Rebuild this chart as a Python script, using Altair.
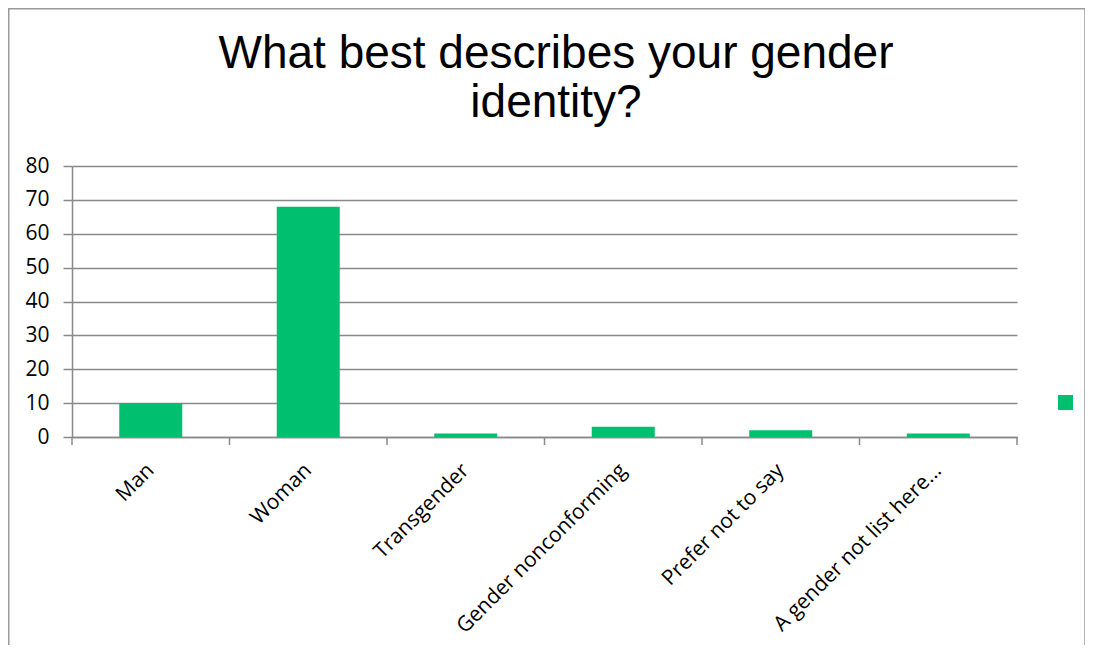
import altair as alt
import pandas as pd

categories = ["Man", "Woman", "Transgender", "Gender nonconforming",
              "Prefer not to say", "A gender not list here..."]
counts = [10, 68, 1, 3, 2, 1]
series_label = ""
y_ticks = [0, 10, 20, 30, 40, 50, 60, 70, 80]
title_lines = ["What best describes your gender", "identity?"]

df = pd.DataFrame({"category": categories, "count": counts,
                   "series": [series_label] * len(categories)})

W, H = 945, 271
GRAY = "#898989"
GREEN = "#00BF6F"
FONT = "Open Sans"

x_scale = alt.Scale(domain=categories, paddingInner=0, paddingOuter=0)
x_axis = alt.Axis(title=None, labelAngle=-45, labelAlign="right", labelBaseline="middle",
                  labelPadding=30, ticks=False, tickSize=0, domain=True,
                  domainColor=GRAY, domainWidth=1.5, labelFont=FONT, labelFontSize=21,
                  labelColor="black", grid=False, labelLimit=400)

bars = alt.Chart(df).mark_bar(width=alt.RelativeBandSize(0.4)).encode(
    x=alt.X("category:N", scale=x_scale, sort=categories, axis=x_axis),
    y=alt.Y("count:Q", scale=alt.Scale(domain=[0, 80]),
            axis=alt.Axis(title=None, values=y_ticks, grid=True, gridColor=GRAY,
                          gridWidth=1.5, tickSize=9, tickColor=GRAY, tickWidth=1.5,
                          domainColor=GRAY, domainWidth=1.5, labelFont=FONT,
                          labelFontSize=21, labelPadding=14, labelColor="black")),
    color=alt.Color("series:N", scale=alt.Scale(domain=[series_label], range=[GREEN]),
                    legend=alt.Legend(title=None, orient="none", legendX=986, legendY=229,
                                      symbolType="square", symbolSize=225,
                                      symbolStrokeWidth=0, labelFontSize=1, padding=0)),
)

cat_ticks = alt.Chart(df).mark_rule(color=GRAY, strokeWidth=1.5).encode(
    x=alt.X("category:N", scale=x_scale, sort=categories, axis=x_axis, bandPosition=0),
    y=alt.value(H), y2=alt.value(H + 8),
)

end_tick = alt.Chart(pd.DataFrame({"k": [0]})).mark_rule(color=GRAY, strokeWidth=1.5).encode(
    x=alt.value(W), y=alt.value(H), y2=alt.value(H + 8),
)

frame = alt.Chart(pd.DataFrame({"k": [0]})).mark_rect(
    fill="transparent", stroke="#9a9a9a", strokeWidth=1.5).encode(
    x=alt.value(-63.25), x2=alt.value(1013), y=alt.value(-157.25), y2=alt.value(700),
)

title = alt.Chart(pd.DataFrame({"k": [0]})).mark_text(
    font="Liberation Sans", fontSize=46, color="black", align="center",
    baseline="alphabetic", lineHeight=49).encode(
    text=alt.value(title_lines), x=alt.value(484), y=alt.value(-98),
)

chart = alt.layer(frame, title, bars, cat_ticks, end_tick).properties(
    width=W, height=H,
    padding={"left": 64, "top": 158, "right": 68, "bottom": 208},
    autosize=alt.AutoSizeParams(type="none"),
).configure_view(stroke="transparent")

chart.save("out.html", embed_options={"renderer": "svg", "actions": False})
